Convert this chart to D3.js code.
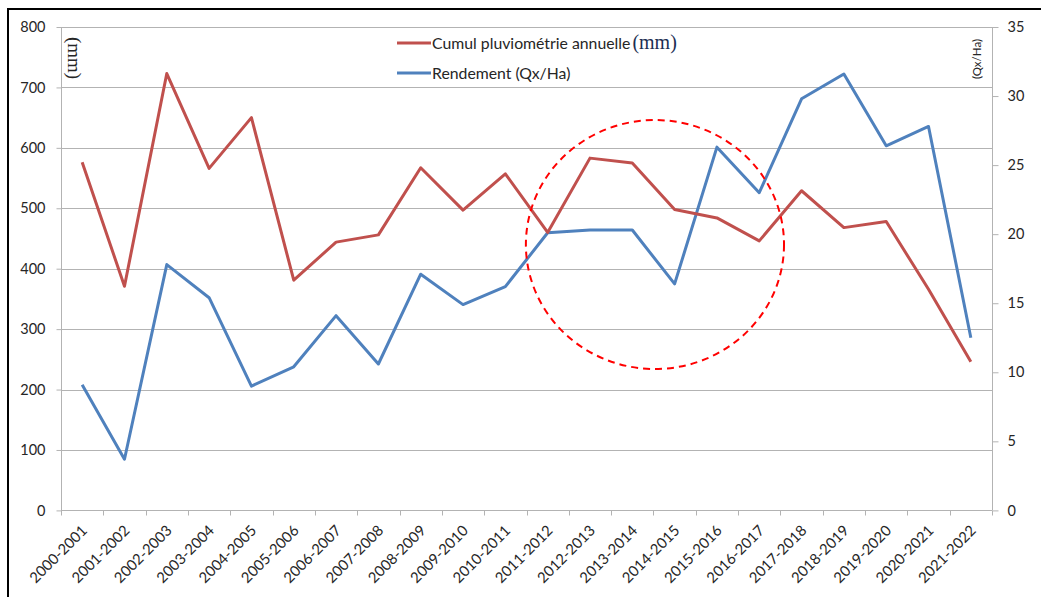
<!DOCTYPE html>
<html>
<head>
<meta charset="utf-8">
<script src="https://cdn.jsdelivr.net/npm/d3@7"></script>
<style>
  html, body { margin: 0; padding: 0; background: #fff; }
  svg { display: block; }
  text { font-family: Lato, "Open Sans", sans-serif; fill: #262626; }
</style>
</head>
<body>
<svg id="chart" width="1041" height="597"></svg>
<script>
// Campaigns (agricultural years)
const campaigns = [
  "2000-2001","2001-2002","2002-2003","2003-2004","2004-2005","2005-2006",
  "2006-2007","2007-2008","2008-2009","2009-2010","2010-2011","2011-2012",
  "2012-2013","2013-2014","2014-2015","2015-2016","2016-2017","2017-2018",
  "2018-2019","2019-2020","2020-2021","2021-2022"
];

// Annual cumulative rainfall (mm) — left axis
const rainfall = [
  576, 371, 723, 566, 650, 381, 444, 456, 567, 497, 557, 460,
  583, 575, 498, 484, 446, 529, 468, 478, 366, 246
];

// Yield (Qx/Ha) — right axis
const yieldQx = [
  9.1, 3.7, 17.8, 15.4, 9.0, 10.4, 14.1, 10.6, 17.1, 14.9, 16.2, 20.1,
  20.3, 20.3, 16.4, 26.3, 23.0, 29.8, 31.6, 26.4, 27.8, 12.5
];

// Axis tick values
const leftTicks = [0, 100, 200, 300, 400, 500, 600, 700, 800];
const rightTicks = [0, 5, 10, 15, 20, 25, 30, 35];

// Highlighted period (dashed ellipse): centre on the boundary between
// 2013-2014 and 2014-2015, around 440 mm
const highlightBoundary = 14;
const highlightCenterMm = 440;
const highlightHalfBands = 3.05;
const highlightHalfMm = 206;

const svg = d3.select("#chart");
const W = 1041, H = 597;
const plot = { left: 61, right: 992, top: 27, bottom: 510.4 };

const x = d3.scaleBand().domain(campaigns).range([plot.left, plot.right]).padding(0);
const yL = d3.scaleLinear().domain([0, 800]).range([plot.bottom, plot.top]);
const yR = d3.scaleLinear().domain([0, 35]).range([plot.bottom, plot.top]);

const gridColor = "#b3b3b3";
const red = "#C0504D", blue = "#4F81BD";

// Outer frame
svg.append("rect").attr("x", 0).attr("y", 0).attr("width", W).attr("height", H).attr("fill", "#fff");
svg.append("path")
  .attr("d", `M8,${H + 2} L8,9 L${W + 2},9`)
  .attr("fill", "none").attr("stroke", "#000").attr("stroke-width", 2);

// Horizontal gridlines
svg.append("g").selectAll("line")
  .data(leftTicks.filter(d => d > 0))
  .join("line")
  .attr("x1", plot.left).attr("x2", plot.right)
  .attr("y1", d => Math.round(yL(d)) + 0.5).attr("y2", d => Math.round(yL(d)) + 0.5)
  .attr("stroke", gridColor).attr("stroke-width", 1);

// Left axis
const gL = svg.append("g")
  .attr("transform", `translate(${plot.left + 0.5},0)`)
  .call(d3.axisLeft(yL).tickValues(leftTicks).tickSize(5).tickPadding(11));
gL.select(".domain").attr("stroke", gridColor).attr("d", `M0,${plot.top}V${plot.bottom}`);
gL.selectAll(".tick line").attr("stroke", gridColor);
gL.selectAll(".tick text").style("font-size", "14.5px").attr("fill", "#262626")
  .style("font-family", "Lato, sans-serif");

// Right axis
const gR = svg.append("g")
  .attr("transform", `translate(${plot.right + 0.5},0)`)
  .call(d3.axisRight(yR).tickValues(rightTicks).tickSize(6).tickPadding(9));
gR.select(".domain").attr("stroke", gridColor).attr("d", `M0,${plot.top}V${plot.bottom}`);
gR.selectAll(".tick line").attr("stroke", gridColor);
gR.selectAll(".tick text").style("font-size", "14.5px").attr("fill", "#262626")
  .style("font-family", "Lato, sans-serif");

// Bottom axis: line, ticks at category boundaries, rotated labels
const gX = svg.append("g").attr("transform", `translate(0,${Math.round(plot.bottom) + 0.5})`);
gX.append("line").attr("x1", plot.left).attr("x2", plot.right).attr("stroke", gridColor);
const boundaries = campaigns.map(c => x(c)).concat([x.range()[1]]);
gX.selectAll("line.tk").data(boundaries).join("line").attr("class", "tk")
  .attr("x1", d => Math.round(d) + 0.5).attr("x2", d => Math.round(d) + 0.5)
  .attr("y1", 0).attr("y2", 5).attr("stroke", gridColor);
gX.selectAll("text").data(campaigns).join("text")
  .attr("transform", d => `translate(${x(d) + x.bandwidth() / 2 + 6},${21}) rotate(-45)`)
  .attr("text-anchor", "end")
  .style("font-size", "14.8px")
  .text(d => d);

// Series lines
const lineRain = d3.line().x((d, i) => x(campaigns[i]) + x.bandwidth() / 2).y(d => yL(d));
const lineYield = d3.line().x((d, i) => x(campaigns[i]) + x.bandwidth() / 2).y(d => yR(d));

svg.append("path").datum(yieldQx).attr("d", lineYield)
  .attr("fill", "none").attr("stroke", blue).attr("stroke-width", 3).attr("stroke-linejoin", "round");
svg.append("path").datum(rainfall).attr("d", lineRain)
  .attr("fill", "none").attr("stroke", red).attr("stroke-width", 3).attr("stroke-linejoin", "round");

// Dashed ellipse marking the period of interest
const cx = x.range()[0] + x.step() * highlightBoundary;
const cy = yL(highlightCenterMm);
svg.append("ellipse")
  .attr("cx", cx + 1.5).attr("cy", cy)
  .attr("rx", x.step() * highlightHalfBands)
  .attr("ry", yL(highlightCenterMm - highlightHalfMm) - cy)
  .attr("fill", "none").attr("stroke", "#FF0000").attr("stroke-width", 2)
  .attr("stroke-dasharray", "7,5");

// Axis unit labels
svg.append("text")
  .attr("transform", "translate(68,58) rotate(90)")
  .attr("text-anchor", "middle")
  .style("font-family", "'Liberation Serif', 'DejaVu Serif', serif")
  .style("font-size", "19px")
  .attr("fill", "#1c2e52")
  .text("(mm)");

svg.append("text")
  .attr("transform", "translate(981,59) rotate(-90)")
  .attr("text-anchor", "middle")
  .style("font-size", "11.5px")
  .attr("fill", "#333")
  .text("(Qx/Ha)");

// Legend
const legend = svg.append("g");
const legendItems = [
  { color: red, y: 43, label: "Cumul pluviométrie annuelle", unit: "(mm)" },
  { color: blue, y: 73, label: "Rendement (Qx/Ha)", unit: null }
];
legendItems.forEach(item => {
  legend.append("line").attr("x1", 397).attr("x2", 431).attr("y1", item.y).attr("y2", item.y)
    .attr("stroke", item.color).attr("stroke-width", 3);
  const t = legend.append("text").attr("x", 432).attr("y", item.y + 5.5).style("font-size", "15.8px");
  t.append("tspan").text(item.label);
  if (item.unit) {
    t.append("tspan")
      .attr("dx", 2)
      .style("font-family", "'Liberation Serif', 'DejaVu Serif', serif")
      .style("font-size", "20px")
      .attr("fill", "#1c2e52")
      .text(item.unit);
  }
});
</script>
</body>
</html>
